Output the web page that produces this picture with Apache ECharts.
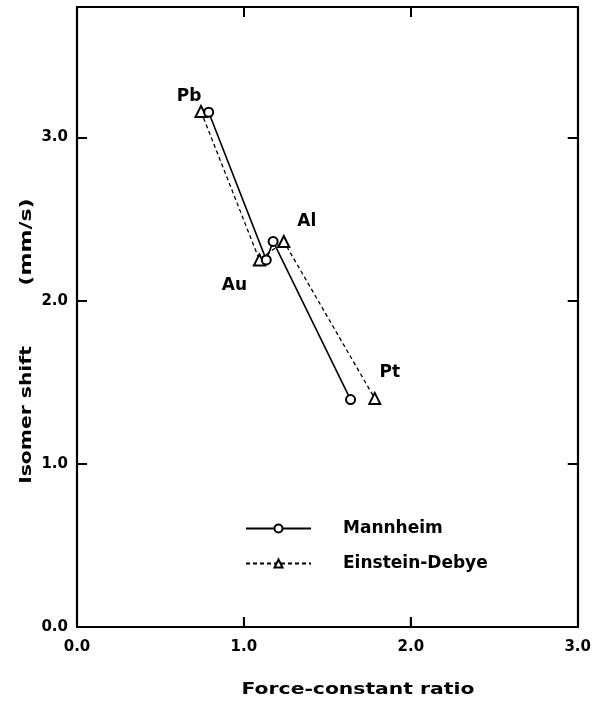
<!DOCTYPE html>
<html>
<head>
<meta charset="utf-8">
<script src="https://cdn.jsdelivr.net/npm/echarts@6/dist/echarts.min.js"></script>
<style>
html,body{margin:0;padding:0;background:#fff;}
#chart{width:594px;height:702px;}
</style>
</head>
<body>
<div id="chart"></div>
<script>
// ---- data ----
const pointNames = ['Pb', 'Au', 'Al', 'Pt'];
const mannheimX = [0.789, 1.134, 1.175, 1.639];
const mannheimY = [3.155, 2.250, 2.363, 1.394];
const einsteinX = [0.743, 1.093, 1.239, 1.784];
const einsteinY = [3.160, 2.250, 2.363, 1.401];
const xTicks = [0, 1, 2, 3];
const yTicks = [0, 1, 2, 3];
const xTitle = 'Force-constant ratio';
const yTitleMain = 'Isomer shift';
const yTitleUnit = '(mm/s)';
const seriesNames = ['Mannheim', 'Einstein-Debye'];

// ---- chart ----
const FONT = 'DejaVu Sans';
const labelOffsets = {Pb: [-12, -15], Au: [-25, 26], Al: [23, -20], Pt: [15, -26]};

const mannheimData = mannheimX.map((x, i) => [x, mannheimY[i]]);
const einsteinData = einsteinX.map((x, i) => ({
  value: [x, einsteinY[i]],
  label: {
    show: true,
    formatter: pointNames[i],
    position: 'inside',
    offset: labelOffsets[pointNames[i]],
    fontFamily: FONT, fontWeight: 'bold', fontSize: 17, color: '#000'
  }
}));

const chart = echarts.init(document.getElementById('chart'), null, {renderer: 'canvas'});

const commonAxisLine = {show: true, onZero: false, lineStyle: {color: '#000', width: 2.2}};
const commonTick = {show: true, inside: true, length: 10, lineStyle: {color: '#000', width: 2}};
const xMin = xTicks[0], xMax = xTicks[xTicks.length - 1];

const titleGraphics = [{
  type: 'text', x: 358, y: 690, scaleX: 1.27,
  style: {text: xTitle, font: 'bold 16px "DejaVu Sans"', fill: '#000', textAlign: 'center', textVerticalAlign: 'middle'}
}, {
  type: 'text', x: 27, y: 415, rotation: Math.PI / 2, scaleX: 1.27,
  style: {text: yTitleMain, font: 'bold 16px "DejaVu Sans"', fill: '#000', textAlign: 'center', textVerticalAlign: 'middle'}
}, {
  type: 'text', x: 27, y: 242, rotation: Math.PI / 2, scaleX: 1.38,
  style: {text: yTitleUnit, font: 'bold 16px "DejaVu Sans"', fill: '#000', textAlign: 'center', textVerticalAlign: 'middle'}
}];

chart.setOption({
  backgroundColor: '#fff',
  animation: false,
  grid: {left: 77, right: 16, top: 7, bottom: 75, containLabel: false},
  xAxis: [{
    type: 'value', min: xMin, max: xMax, interval: 1,
    position: 'bottom',
    axisLine: commonAxisLine, axisTick: commonTick, splitLine: {show: false},
    axisLabel: {margin: 13, color: '#000', fontFamily: FONT, fontWeight: 'bold', fontSize: 15,
      formatter: v => v.toFixed(1)}
  }, {
    type: 'value', min: xMin, max: xMax, interval: 1,
    position: 'top',
    axisLine: commonAxisLine, axisTick: commonTick, splitLine: {show: false},
    axisLabel: {show: false}
  }],
  yAxis: [{
    type: 'value', min: yTicks[0], max: 3.8, interval: 1,
    position: 'left',
    axisLine: commonAxisLine, axisTick: commonTick, splitLine: {show: false},
    axisLabel: {margin: 9, color: '#000', fontFamily: FONT, fontWeight: 'bold', fontSize: 15,
      showMaxLabel: false,
      formatter: v => (yTicks.indexOf(v) >= 0 ? v.toFixed(1) : '')}
  }, {
    type: 'value', min: yTicks[0], max: 3.8, interval: 1,
    position: 'right',
    axisLine: commonAxisLine, axisTick: commonTick, splitLine: {show: false},
    axisLabel: {show: false}
  }],
  legend: {
    orient: 'vertical',
    left: 240, top: 515,
    itemWidth: 65, itemHeight: 10, itemGap: 18,
    textStyle: {fontFamily: FONT, fontWeight: 'bold', fontSize: 17, color: '#000', padding: [0, 0, 0, 27]},
    data: seriesNames
  },
  series: [{
    name: seriesNames[0],
    type: 'line',
    data: mannheimData,
    symbol: 'emptyCircle', symbolSize: 9,
    color: '#000',
    lineStyle: {color: '#000', width: 1.6, type: 'solid'},
    itemStyle: {color: '#000', borderColor: '#000', borderWidth: 1.4},
    z: 3
  }, {
    name: seriesNames[1],
    type: 'line',
    data: einsteinData,
    symbol: 'emptyTriangle', symbolSize: 11,
    color: '#000',
    lineStyle: {color: '#000', width: 1.3, type: [4, 3]},
    itemStyle: {color: '#000', borderColor: '#000', borderWidth: 1.4},
    z: 2
  }],
  graphic: titleGraphics
});

// bottom inner ticks, placed through the chart's own x scale
const tickGraphics = xTicks.slice(1, -1).map(v => {
  const p = chart.convertToPixel({xAxisIndex: 0, yAxisIndex: 0}, [v, yTicks[0]]);
  return {
    type: 'line', z: 50,
    shape: {x1: p[0], y1: p[1], x2: p[0], y2: p[1] - 10},
    style: {stroke: '#000', lineWidth: 2}
  };
});
chart.setOption({graphic: titleGraphics.concat(tickGraphics)});
</script>
</body>
</html>
